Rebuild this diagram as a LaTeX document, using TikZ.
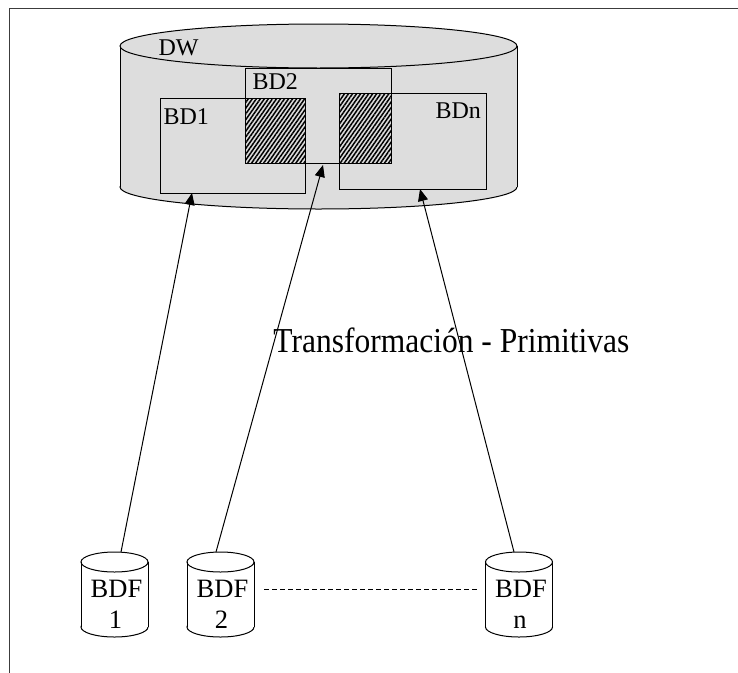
\documentclass[tikz,border=0pt]{standalone}
\usepackage{fontspec}
\setmainfont{Liberation Serif}
\usetikzlibrary{arrows.meta,patterns.meta}
\definecolor{dbgray}{RGB}{221,221,221}
\definecolor{framegray}{RGB}{60,60,60}

% small source database drawn as a cylinder, with an invisible named node over its body
\newcommand\bdfcyl[3]{%
  \filldraw[fill=white] (#2,627) ellipse[x radius=33.5, y radius=10];
  \fill[white] ({#2-33.5},562) rectangle ({#2+33.5},627);
  \draw ({#2-33.5},562) -- ({#2-33.5},627) ({#2+33.5},562) -- ({#2+33.5},627);
  \draw (#2,562) ellipse[x radius=33.5, y radius=10];
  \node[minimum width=67pt, minimum height=85pt, inner sep=0pt, outer sep=0pt] (#1) at (#2,594.5) {};
  \node[lbl, font=\fontsize{26.5}{30}\selectfont, anchor=base] (#1a) at ({#2+2},597) {BDF};
  \node[lbl, font=\fontsize{26.5}{30}\selectfont, anchor=base] (#1b) at ({#2+1},628) {#3};
}

\begin{document}
\begin{tikzpicture}[x=1pt, y=-1pt, line width=1pt,
  lbl/.style={font=\fontsize{24}{28}\selectfont, inner sep=0pt, anchor=base west},
  box/.style={draw, inner sep=0pt, outer sep=0pt},
  hatch/.style={draw, pattern={Lines[angle=55, distance=3.3pt, line width=1.5pt]}},
  arr/.style={-{Triangle[length=12pt, width=10pt]}}]
\useasboundingbox (0,0) rectangle (738,672);

% outer frame (top and left edges)
\draw[line width=1.4pt, framegray] (9.5,690) -- (9.5,8.5) -- (760,8.5);

% data warehouse cylinder
\filldraw[fill=dbgray] (318.5,187) ellipse[x radius=198.5, y radius=22];
\fill[dbgray] (120,46) rectangle (517,187);
\draw (120,46) -- (120,187) (517,46) -- (517,187);
\filldraw[fill=dbgray] (318.5,46) ellipse[x radius=198.5, y radius=22];
\node[minimum width=397pt, minimum height=185pt, inner sep=0pt] (dw) at (318.5,116.5) {};

% local databases inside the warehouse
\node[box, minimum width=145pt, minimum height=95pt] (bd1) at (232.5,145.5) {};
\node[box, minimum width=146pt, minimum height=95pt] (bd2) at (318,115.5) {};
\node[box, minimum width=147pt, minimum height=96pt] (bdn) at (412.5,141) {};

% shared parts
\path[hatch] (bd2.south west) rectangle (bd1.north east);
\path[hatch] (bd2.south east) rectangle (bdn.north west);

\node[lbl] (dwlbl) at (158,55) {DW};
\node[lbl] (bd2lbl) at (252,89) {BD2};
\node[lbl] (bd1lbl) at (163,124) {BD1};
\node[lbl] (bdnlbl) at (435,118) {BDn};

% source databases
\bdfcyl{bdf1}{114.5}{1}
\bdfcyl{bdf2}{220.5}{2}
\bdfcyl{bdfn}{519}{n}

\draw[dash pattern=on 5pt off 3pt] ([xshift=10pt, yshift=5.5pt]bdf2.east) -- ([xshift=-8pt, yshift=5.5pt]bdfn.west);

% transformation arrows
\draw[arr] ([xshift=6.5pt]bdf1.north) -- ([xshift=-40.5pt]bd1.south);
\draw[arr] ([xshift=-4.5pt]bdf2.north) -- ([xshift=5pt, yshift=-2pt]bd2.south);
\draw[arr] ([xshift=-5pt]bdfn.north) -- ([xshift=7.5pt]bdn.south);

\node[anchor=base west, inner sep=0pt, font=\fontsize{35}{40}\selectfont, xscale=0.9] (tp) at (273,352) {Transformación - Primitivas};
\end{tikzpicture}
\end{document}
